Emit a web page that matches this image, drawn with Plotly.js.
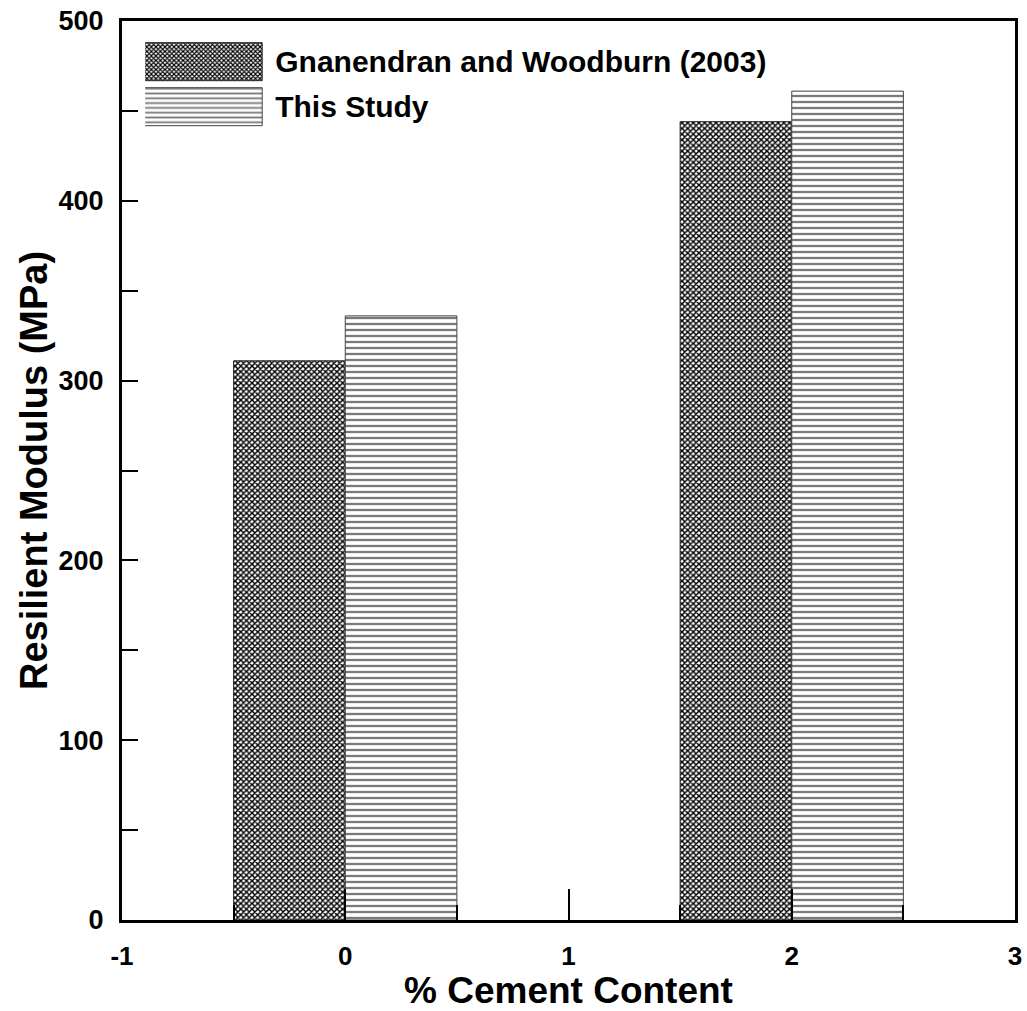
<!DOCTYPE html>
<html>
<head>
<meta charset="utf-8">
<script src="https://cdn.plot.ly/plotly-3.0.1.min.js"></script>
<style>html,body{margin:0;padding:0;background:#fff;}</style>
</head>
<body>
<div id="chart" style="width:1027px;height:1011px;"></div>
<script>
// Data
const cementContent = [0, 2];
const gnanendranValues = [311, 444];
const thisStudyValues = [336, 461];
const seriesNames = ['Gnanendran and Woodburn (2003)', 'This Study'];
const xTickVals = [-1, 0, 1, 2, 3];
const xTickText = ['-1', '0', '1', '2', '3'];
const yTickVals = [0, 100, 200, 300, 400, 500];
const yTickText = ['0', '100', '200', '300', '400', '500'];

const FONT = 'Liberation Sans, Arial, sans-serif';

const traces = [
  {
    type: 'bar', x: cementContent, y: gnanendranValues, name: seriesNames[0],
    legendgroup: 'a',
    marker: {
      color: 'white',
      line: {color: '#222222', width: 1},
      pattern: {shape: 'x', size: 4, solidity: 0.6, fgcolor: 'black', bgcolor: 'white'}
    }
  },
  {
    type: 'bar', x: cementContent, y: thisStudyValues, name: seriesNames[1],
    legendgroup: 'b',
    marker: {
      color: 'white',
      line: {color: '#444444', width: 1},
      pattern: {shape: '-', size: 6, solidity: 0.38, fgcolor: '#7a7a7a', bgcolor: 'white'}
    }
  }
];

const layout = {
  width: 1027, height: 1011,
  margin: {l: 122, r: 12, t: 21, b: 91},
  paper_bgcolor: 'white', plot_bgcolor: 'white',
  barmode: 'group', bargap: 0.5, bargroupgap: 0,
  font: {family: FONT, color: 'black', size: 27, weight: 'bold'},
  showlegend: true,
  legend: {
    x: 0.026, y: 0.985, xanchor: 'left', yanchor: 'top',
    bgcolor: 'rgba(0,0,0,0)', borderwidth: 0,
    font: {family: FONT, size: 30, color: 'black', weight: 'bold'},
    itemwidth: 120, traceorder: 'grouped', tracegroupgap: 3
  },
  xaxis: {
    range: [-1, 3], tickmode: 'array', tickvals: xTickVals, ticktext: xTickText,
    ticks: 'inside', ticklen: 31, tickwidth: 2, tickcolor: 'black',
    showline: true, linewidth: 3, linecolor: 'black', mirror: true,
    showgrid: false, zeroline: false, ticklabelstandoff: 11,
    tickfont: {family: FONT, size: 26, color: 'black', weight: 'bold'},
    minor: {dtick: 0.5, tick0: 0, ticks: 'inside', ticklen: 15, tickwidth: 2, tickcolor: 'black', showgrid: false},
    title: {text: '% Cement Content', font: {family: FONT, size: 37, color: 'black', weight: 'bold'}, standoff: 3},
    automargin: false
  },
  yaxis: {
    range: [0, 500], tickmode: 'array', tickvals: yTickVals, ticktext: yTickText,
    ticks: 'inside', ticklen: 16, tickwidth: 2, tickcolor: 'black',
    showline: true, linewidth: 3, linecolor: 'black', mirror: true,
    showgrid: false, zeroline: false, ticklabelstandoff: 10,
    tickfont: {family: FONT, size: 27, color: 'black', weight: 'bold'},
    minor: {dtick: 50, tick0: 0, ticks: 'inside', ticklen: 16, tickwidth: 2, tickcolor: 'black', showgrid: false},
    title: {text: 'Resilient Modulus (MPa)', font: {family: FONT, size: 38, color: 'black', weight: 'bold'}, standoff: 0},
    automargin: false
  }
};

function enlargeLegendSwatches() {
  const gd = document.getElementById('chart');
  const items = gd.querySelectorAll('.legend .traces');
  items.forEach(item => {
    const text = item.querySelector('.legendtext');
    const path = item.querySelector('.legendpoints path');
    if (!text || !path) return;
    const tb = text.getBoundingClientRect();
    const ctm = path.getScreenCTM();
    const right = tb.left - 13;
    const left = right - 120;
    const cy = tb.top + tb.height / 2;
    const top = cy - 19, bottom = cy + 19;
    const lx = left - ctm.e, rx = right - ctm.e;
    const ty = top - ctm.f, by = bottom - ctm.f;
    path.setAttribute('d', `M${lx},${ty}H${rx}V${by}H${lx}Z`);
  });
}

Plotly.newPlot('chart', traces, layout, {displayModeBar: false, staticPlot: true}).then(enlargeLegendSwatches);
</script>
</body>
</html>
